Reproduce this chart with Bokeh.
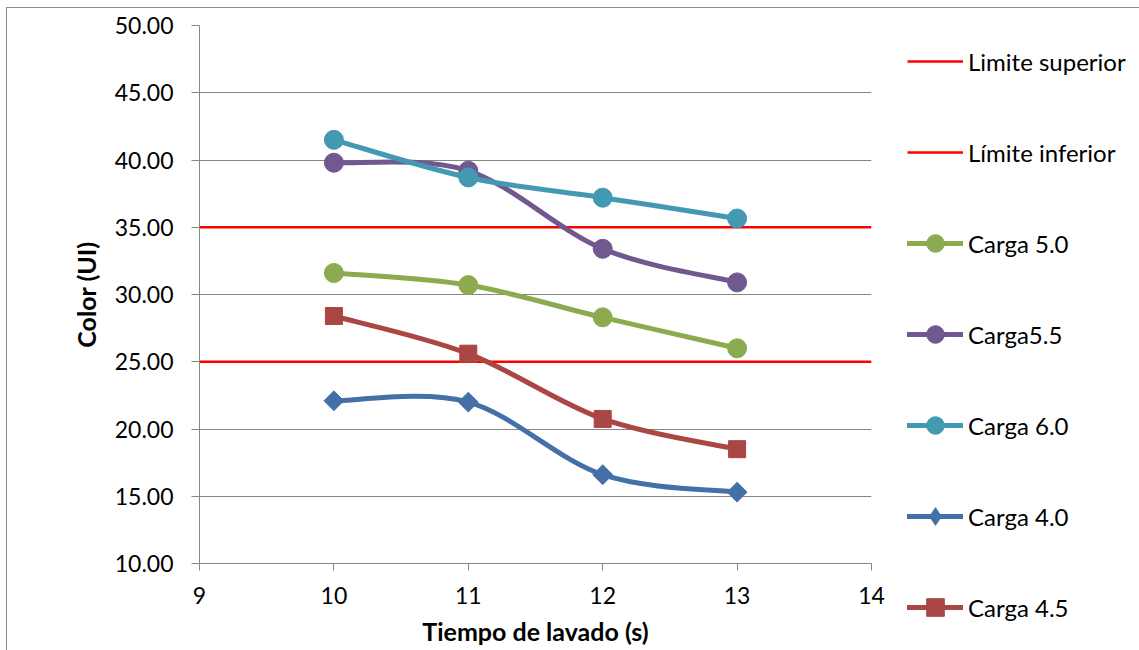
from bokeh.plotting import figure
from bokeh.models import (Range1d, FixedTicker, NumeralTickFormatter, Legend,
                          LegendItem, ColumnDataSource)
from bokeh.embed import file_html
from bokeh.resources import INLINE

# Washing time (s) and colour readings (UI) per load
tiempo = [10, 11, 12, 13]
carga_50 = [31.6, 30.7, 28.3, 26.0]
carga_55 = [39.8, 39.2, 33.4, 30.9]
carga_60 = [41.5, 38.7, 37.2, 35.65]
carga_40 = [22.1, 22.0, 16.6, 15.3]
carga_45 = [28.4, 25.6, 20.75, 18.5]

limite_superior = 35.0
limite_inferior = 25.0

x_ticks = [9, 10, 11, 12, 13, 14]
y_ticks = [10, 15, 20, 25, 30, 35, 40, 45, 50]
x_min, x_max = 9, 14
y_min, y_max = 10, 50

FONT = "Lato"
GRID = "#868686"

# chart area frame: thin grey border on the left and top edges
p = figure(frame_width=672, frame_height=538,
           min_border_left=192, min_border_right=259,
           min_border_top=17, min_border_bottom=90,
           x_range=Range1d(x_min, x_max), y_range=Range1d(y_min, y_max),
           output_backend="svg", toolbar_location=None)
p.styles = {"border-left": "1.5px solid #8C8C8C",
            "border-top": "1.5px solid #8C8C8C",
            "margin-left": "6px", "margin-top": "7px"}
p.outline_line_color = None
p.background_fill_color = "white"
p.border_fill_color = "white"
# separate x range used only by legend key glyphs (they fall outside the frame)
p.extra_x_ranges = {"clave": Range1d(0, 1)}

# axes
p.xaxis.ticker = FixedTicker(ticks=x_ticks)
p.yaxis.ticker = FixedTicker(ticks=y_ticks)
p.yaxis.formatter = NumeralTickFormatter(format="0.00")
for ax in (p.xaxis[0], p.yaxis[0]):
    ax.axis_line_color = GRID
    ax.major_tick_line_color = GRID
    ax.minor_tick_line_color = None
    ax.major_tick_in = 0
    ax.major_label_text_font = FONT
    ax.major_label_text_font_size = "23px"
    ax.major_label_text_color = "black"
    ax.axis_label_text_font = FONT
    ax.axis_label_text_font_style = "bold"
    ax.axis_label_text_font_size = "25px"
    ax.axis_label_text_color = "black"
p.yaxis.major_tick_out = 8
p.yaxis.major_label_standoff = 18
p.xaxis.major_tick_out = 7
p.xaxis.major_label_standoff = 16
p.xaxis.axis_label = "Tiempo de lavado (s)"
p.yaxis.axis_label = "Color (UI)"
p.yaxis.axis_label_standoff = 11
p.xaxis.axis_label_standoff = 9

p.xgrid.grid_line_color = None
p.ygrid.grid_line_color = GRID
p.ygrid.grid_line_width = 1


def smooth_segments(xs, ys):
    """Cubic Bezier segments through the points (Catmull-Rom style smoothing)."""
    n = len(xs)
    d = dict(x0=[], y0=[], x1=[], y1=[], cx0=[], cy0=[], cx1=[], cy1=[])
    for i in range(n - 1):
        a, b = max(i - 1, 0), min(i + 2, n - 1)
        d["x0"].append(xs[i]); d["y0"].append(ys[i])
        d["x1"].append(xs[i + 1]); d["y1"].append(ys[i + 1])
        d["cx0"].append(xs[i] + (xs[i + 1] - xs[a]) / 6)
        d["cy0"].append(ys[i] + (ys[i + 1] - ys[a]) / 6)
        d["cx1"].append(xs[i + 1] - (xs[b] - xs[i]) / 6)
        d["cy1"].append(ys[i + 1] - (ys[b] - ys[i]) / 6)
    return ColumnDataSource(d)


items = []

# limit lines
for nombre, nivel in (("Limite superior", limite_superior),
                      ("Límite inferior", limite_inferior)):
    r = p.segment(x0=[x_min], x1=[x_max], y0=[nivel], y1=[nivel],
                  line_color="#FF0000", line_width=2.5)
    items.append(LegendItem(label=nombre, renderers=[r]))

series = [
    ("Carga 5.0", carga_50, "#8CAB50", "circle", 19, 0),
    ("Carga5.5", carga_55, "#71588F", "circle", 19, 0),
    ("Carga 6.0", carga_60, "#4399B1", "circle", 19, 0),
    ("Carga 4.0", carga_40, "#4470A8", "square", 14, 0.785398),
    ("Carga 4.5", carga_45, "#AA4643", "square", 17, 0),
]

for nombre, vals, color, marker, size, ang in series:
    line_r = p.bezier(x0="x0", y0="y0", x1="x1", y1="y1",
                      cx0="cx0", cy0="cy0", cx1="cx1", cy1="cy1",
                      source=smooth_segments(tiempo, vals),
                      line_color=color, line_width=5, line_cap="round")
    pts = p.scatter(tiempo, vals, marker=marker, size=size, angle=ang,
                    fill_color=color, line_color=color)
    key = pts
    if ang:
        # the legend draws markers unrotated, so key this series with a
        # diamond glyph mapped on the off-frame range
        key = p.scatter(tiempo, vals, x_range_name="clave",
                        marker="diamond", size=26,
                        fill_color=color, line_color=color)
    items.append(LegendItem(label=nombre, renderers=[line_r, key]))

legend = Legend(items=items, location=(36, -66),
                glyph_width=56, glyph_height=44, label_height=44,
                spacing=47, padding=0, margin=0, label_standoff=5,
                label_text_font=FONT, label_text_font_size="24px",
                label_text_color="black",
                border_line_color=None, background_fill_alpha=0)
p.add_layout(legend, "right")

open("out.html", "w").write(file_html(p, INLINE))
